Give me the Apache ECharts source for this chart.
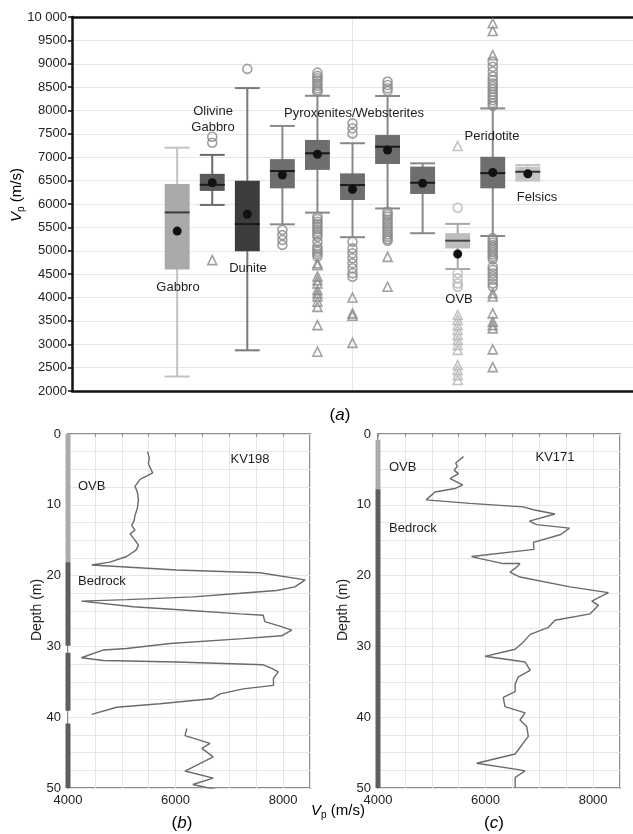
<!DOCTYPE html>
<html><head><meta charset="utf-8">
<script src="https://cdn.jsdelivr.net/npm/echarts@6/dist/echarts.min.js"></script>
<style>html,body{margin:0;padding:0;background:#fff}#c{width:633px;height:834px}</style>
</head><body><div id="c"></div>
<script>
// ---------- (a) box plot data ----------
const boxNames = ['Gabbro','Olivine Gabbro','Dunite','Pyroxenite/Websterite 1','Pyroxenite/Websterite 2','Pyroxenite/Websterite 3','Pyroxenite/Websterite 4','Peridotite 1','OVB','Peridotite 2','Felsics'];
const whiskerLow  = [2310, 5980, 2870, 5565, 5815, 5290, 5905, 5375, 4610, 5315, 6500];
const q1          = [4600, 6280, 4990, 6335, 6730, 6085, 6855, 6215, 5050, 6335, 6500];
const median      = [5820, 6410, 5570, 6705, 7085, 6405, 7225, 6455, 5215, 6660, 6690];
const q3          = [6430, 6645, 6495, 6960, 7370, 6655, 7475, 6800, 5375, 7010, 6800];
const whiskerHigh = [7205, 7050, 8480, 7670, 8315, 7300, 8310, 6870, 5575, 8045, 6835];
const meanVp      = [5420, 6455, 5780, 6620, 7065, 6315, 7155, 6445, 4930, 6675, 6645];
const outlierCircles = [
  [],
  [7440, 7310],
  [8890],
  [5445, 5335, 5230, 5125],
  [8810, 8740, 8690, 8640, 8580, 8530, 8475, 8430, 8400, 5730, 5680, 5620, 5570, 5515, 5460, 5405, 5350, 5300, 5190, 5085, 5030, 4980, 4930, 4875],
  [7725, 7620, 7510, 5195, 5050, 4945, 4840, 4730, 4625, 4520, 4445],
  [8620, 8545, 8475, 8420, 5835, 5780, 5730, 5670, 5620, 5570, 5515, 5460, 5405, 5350, 5300, 5250, 5215],
  [],
  [5920, 4520, 4410, 4300, 4230],
  [9045, 8935, 8830, 8725, 8650, 8580, 8520, 8460, 8400, 8340, 8280, 8220, 8160, 8100, 5270, 5220, 5170, 5120, 5070, 5020, 4970, 4920, 4870, 4820, 4660, 4590, 4520, 4450, 4380, 4300, 4230],
  []
];
const outlierTriangles = [
  [],
  [4800],
  [],
  [],
  [4730, 4690, 4450, 4370, 4300, 4160, 4090, 4020, 3910, 3800, 3410, 2840],
  [4000, 3660, 3610, 3030],
  [4870, 4230],
  [],
  [7240, 3625, 3520, 3410, 3305, 3200, 3090, 2985, 2880, 2555, 2450, 2340, 2235],
  [9865, 9700, 9185, 4090, 4020, 3660, 3480, 3410, 3340, 2890, 2510],
  []
];
const vpTicksA = [2000, 10000, 500];

// ---------- (b) KV198 ----------
const kv198DepthUpper = [2.5, 3.4, 4.2, 5.5, 6.0, 6.4, 7.4, 8.2, 9.3, 10.5, 11.5, 12.2, 12.9, 13.6, 14.1, 15.0, 15.7, 16.4, 17.3, 18.1, 18.5, 19.2, 19.6, 20.6, 21.6, 22.1, 22.5, 23.0, 23.4, 23.6, 24.4, 24.9, 25.4, 25.6, 26.5, 27.2, 27.7, 28.5, 28.9, 29.6, 30.3, 30.5, 31.6, 32.0, 32.2, 32.6, 33.1, 33.6, 34.5, 35.5, 36.0, 36.7, 37.4, 38.1, 38.6, 39.6];
const kv198VpUpper    = [5480, 5510, 5495, 5575, 5450, 5340, 5245, 5290, 5310, 5290, 5245, 5230, 5185, 5245, 5155, 5245, 5310, 5265, 5090, 4780, 4440, 6020, 7570, 8410, 8220, 7880, 7200, 6330, 5090, 4250, 5215, 6205, 7200, 7630, 7660, 7970, 8160, 7970, 7260, 5900, 5090, 4660, 4250, 4660, 6020, 7630, 7790, 7910, 7820, 7820, 7260, 6830, 6670, 5710, 4905, 4440];
const kv198DepthLower = [41.6, 42.6, 43.7, 44.4, 45.6, 47.6, 48.6, 49.5, 50.6];
const kv198VpLower    = [6210, 6175, 6640, 6490, 6700, 6175, 6700, 6320, 6980];
const kv198Ovb     = [[0, 18.1]];
const kv198Bedrock = [[18.1, 29.9], [30.9, 39.1], [40.9, 50]];

// ---------- (c) KV171 ----------
const kv171Depth = [3.2, 4.1, 4.6, 5.1, 5.6, 6.3, 7.2, 7.7, 8.2, 8.6, 9.3, 9.8, 10.3, 10.7, 11.3, 12.3, 12.8, 13.3, 14.2, 15.3, 16.3, 17.3, 17.6, 18.3, 18.3, 18.8, 19.5, 20.2, 21.6, 22.4, 23.0, 23.6, 24.2, 25.4, 26.3, 27.3, 28.3, 29.4, 30.4, 31.4, 32.2, 33.4, 34.3, 35.3, 36.4, 37.2, 38.5, 39.4, 40.4, 41.3, 42.7, 45.2, 46.5, 47.4, 47.6, 48.5, 49.9];
const kv171Vp    = [5590, 5445, 5475, 5415, 5495, 5340, 5575, 5430, 5060, 5000, 4895, 5710, 6700, 6890, 7290, 6815, 6950, 7560, 7400, 6890, 6900, 5740, 5900, 6330, 6640, 6580, 6455, 6640, 7570, 8285, 8130, 7975, 8100, 7945, 7290, 7170, 6830, 6700, 6550, 5990, 6735, 6830, 6610, 6550, 6550, 6330, 6360, 6735, 6640, 6765, 6795, 6550, 5835, 6610, 6735, 6550, 6550];
const kv171Ovb     = [[0.8, 7.8]];
const kv171Bedrock = [[7.8, 50]];

// ---------- styles ----------
const FONT = '"Liberation Sans", Arial, Helvetica, sans-serif';
const boxStyles = [
  {fill:'#a9a9a9', whisker:'#c2c2c2', median:'#3a3a3a', out:'#999'},
  {fill:'#5a5a5a', whisker:'#6a6a6a', median:'#1a1a1a', out:'#8a8a8a'},
  {fill:'#3c3c3c', whisker:'#7a7a7a', median:'#1a1a1a', out:'#8a8a8a'},
  {fill:'#6e6e6e', whisker:'#888', median:'#1a1a1a', out:'#8a8a8a'},
  {fill:'#6e6e6e', whisker:'#888', median:'#1a1a1a', out:'#8a8a8a'},
  {fill:'#6e6e6e', whisker:'#888', median:'#1a1a1a', out:'#8a8a8a'},
  {fill:'#6e6e6e', whisker:'#888', median:'#1a1a1a', out:'#8a8a8a'},
  {fill:'#6e6e6e', whisker:'#888', median:'#1a1a1a', out:'#8a8a8a'},
  {fill:'#bdbdbd', whisker:'#a8a8a8', median:'#444', out:'#b4b4b4'},
  {fill:'#6e6e6e', whisker:'#888', median:'#1a1a1a', out:'#8a8a8a'},
  {fill:'#c4c4c4', whisker:'#c4c4c4', median:'#333', out:'#999'}
];
const SLOT0 = 3; // first box sits on slot 3 of a 0..16 slot axis

const boxData = boxNames.map((n, i) => [i + SLOT0, whiskerLow[i], q1[i], median[i], q3[i], whiskerHigh[i], meanVp[i]]);
const circleData = [], triData = [];
outlierCircles.forEach((arr, i) => arr.forEach(v => circleData.push({value:[i + SLOT0, v], itemStyle:{borderColor: boxStyles[i].out}})));
outlierTriangles.forEach((arr, i) => arr.forEach(v => triData.push({value:[i + SLOT0, v], itemStyle:{borderColor: boxStyles[i].out}})));

function renderBox(params, api) {
  const i = params.dataIndex;
  const x = api.value(0);
  const lo = api.coord([x, api.value(1)]);
  const b1 = api.coord([x, api.value(2)]);
  const md = api.coord([x, api.value(3)]);
  const b3 = api.coord([x, api.value(4)]);
  const hi = api.coord([x, api.value(5)]);
  const mn = api.coord([x, api.value(6)]);
  const w = api.size([1, 0])[0] * 0.71;
  const cx = lo[0];
  const st = boxStyles[i];
  return {type:'group', children:[
    {type:'line', shape:{x1:cx, y1:hi[1], x2:cx, y2:lo[1]}, style:{stroke:st.whisker, lineWidth:2}},
    {type:'line', shape:{x1:cx - w/2, y1:hi[1], x2:cx + w/2, y2:hi[1]}, style:{stroke:st.whisker, lineWidth:2}},
    {type:'line', shape:{x1:cx - w/2, y1:lo[1], x2:cx + w/2, y2:lo[1]}, style:{stroke:st.whisker, lineWidth:2}},
    {type:'rect', shape:{x:cx - w/2, y:b3[1], width:w, height:Math.max(b1[1] - b3[1], 1)}, style:{fill:st.fill}},
    {type:'line', shape:{x1:cx - w/2, y1:md[1], x2:cx + w/2, y2:md[1]}, style:{stroke:st.median, lineWidth:2}},
    {type:'circle', shape:{cx:cx, cy:mn[1], r:4.5}, style:{fill:'#111'}}
  ]};
}

function barSeries(intervals, color, xi, yi) {
  return intervals.map(iv => ({
    type:'line', xAxisIndex:xi, yAxisIndex:yi, clip:false, symbol:'none', silent:true,
    lineStyle:{color:color, width:5}, z:5,
    data:[[4000, iv[0]], [4000, iv[1]]]
  }));
}
function zipLine(vp, depth) { return vp.map((v, k) => [v, depth[k]]); }

const depthAxis = (gi) => ({
  type:'value', gridIndex:gi, min:0, max:50, interval:2.5, inverse:true,
  axisLine:{show:false}, axisTick:{show:false},
  axisLabel:{fontFamily:FONT, fontSize:13, color:'#222', margin:7, formatter: v => (v % 10 === 0 ? String(v) : '')},
  splitLine:{show:true, lineStyle:{color:'#e6e6e6', width:1}}
});
const vpAxis = (gi) => ({
  type:'value', gridIndex:gi, min:4000, max:8500, interval:500,
  axisLine:{show:false}, axisTick:{show:true, length:3, lineStyle:{color:'#999'}},
  axisLabel:{fontFamily:FONT, fontSize:13, color:'#222', margin:6, showMaxLabel:false, formatter: v => (v % 2000 === 0 ? String(v) : '')},
  splitLine:{show:true, lineStyle:{color:'#e6e6e6', width:1}}
});

const vpRich = {
  v:{fontFamily:FONT, fontSize:15, fontStyle:'italic', color:'#222'},
  s:{fontFamily:FONT, fontSize:10, color:'#222', padding:[9,0,0,0]},
  n:{fontFamily:FONT, fontSize:15, color:'#222'}
};
const capRich = {
  p:{fontFamily:FONT, fontSize:17, color:'#222'},
  i:{fontFamily:FONT, fontSize:17, fontStyle:'italic', color:'#222'}
};
function txt(x, y, s, align) {
  return {type:'text', z:100, x:x, y:y, style:{text:s, font:'13px ' + FONT, fill:'#1e1e1e', align:align || 'center', verticalAlign:'middle'}};
}

const chart = echarts.init(document.getElementById('c'), null, {renderer:'canvas'});
chart.setOption({
  animation:false,
  backgroundColor:'#fff',
  grid:[
    {left:72, top:17, width:561, height:374},
    {left:68, top:434, width:242, height:354, show:true, borderColor:'#8c8c8c', borderWidth:2, backgroundColor:'transparent'},
    {left:378, top:434, width:242, height:354, show:true, borderColor:'#8c8c8c', borderWidth:2, backgroundColor:'transparent'}
  ],
  xAxis:[
    {type:'value', gridIndex:0, min:0, max:16, interval:8, position:'bottom',
     axisLine:{show:true, onZero:false, lineStyle:{color:'#111', width:2.5}}, axisTick:{show:false}, axisLabel:{show:false},
     splitLine:{show:true, lineStyle:{color:'#e6e6e6'}}},
    {type:'value', gridIndex:0, min:0, max:16, position:'top',
     axisLine:{show:true, onZero:false, lineStyle:{color:'#111', width:2.5}}, axisTick:{show:false}, axisLabel:{show:false}, splitLine:{show:false}},
    vpAxis(1), vpAxis(2)
  ],
  yAxis:[
    {type:'value', gridIndex:0, min:vpTicksA[0], max:vpTicksA[1], interval:vpTicksA[2],
     axisLine:{show:true, onZero:false, lineStyle:{color:'#111', width:2.5}},
     axisTick:{show:true, length:4, lineStyle:{color:'#111', width:1.5}},
     axisLabel:{fontFamily:FONT, fontSize:13, color:'#222', margin:5, formatter: v => (v === 10000 ? '10 000' : String(v))},
     splitLine:{show:true, lineStyle:{color:'#e6e6e6', width:1}}},
    depthAxis(1), depthAxis(2)
  ],
  series:[
    {type:'custom', xAxisIndex:0, yAxisIndex:0, renderItem:renderBox, data:boxData, z:3, silent:true},
    {type:'scatter', xAxisIndex:0, yAxisIndex:0, symbol:'circle', symbolSize:9, data:circleData, z:4, silent:true,
     itemStyle:{color:'rgba(255,255,255,0)', borderWidth:1.6}},
    {type:'scatter', xAxisIndex:0, yAxisIndex:0, symbol:'triangle', symbolSize:9, data:triData, z:4, silent:true,
     itemStyle:{color:'rgba(255,255,255,0)', borderWidth:1.6}},
    {type:'line', xAxisIndex:2, yAxisIndex:1, symbol:'none', silent:true, data:zipLine(kv198VpUpper, kv198DepthUpper), lineStyle:{color:'#6a6a6a', width:1.4}},
    {type:'line', xAxisIndex:2, yAxisIndex:1, symbol:'none', silent:true, data:zipLine(kv198VpLower, kv198DepthLower), lineStyle:{color:'#6a6a6a', width:1.4}},
    {type:'line', xAxisIndex:3, yAxisIndex:2, symbol:'none', silent:true, data:zipLine(kv171Vp, kv171Depth), lineStyle:{color:'#6a6a6a', width:1.4}},
    ...barSeries(kv198Ovb, '#ababab', 2, 1),
    ...barSeries(kv198Bedrock, '#5e5e5e', 2, 1),
    ...barSeries(kv171Ovb, '#ababab', 3, 2),
    ...barSeries(kv171Bedrock, '#5e5e5e', 3, 2)
  ],
  graphic:[
    {type:'text', z:100, x:17, y:195, rotation:Math.PI/2, style:{text:'{v|V}{s|p}{n| (m/s)}', rich:vpRich, align:'center', verticalAlign:'middle'}},
    txt(178, 287, 'Gabbro'),
    txt(213, 111, 'Olivine'),
    txt(213, 127, 'Gabbro'),
    txt(248, 268, 'Dunite'),
    txt(354, 113, 'Pyroxenites/Websterites'),
    txt(492, 136, 'Peridotite'),
    txt(537, 197, 'Felsics'),
    txt(459, 299, 'OVB'),
    {type:'text', z:100, x:340, y:415, style:{text:'{p|(}{i|a}{p|)}', rich:capRich, align:'center', verticalAlign:'middle'}},
    txt(250, 459, 'KV198'),
    txt(78, 486, 'OVB', 'left'),
    txt(78, 581, 'Bedrock', 'left'),
    txt(555, 457, 'KV171'),
    txt(389, 467, 'OVB', 'left'),
    txt(389, 528, 'Bedrock', 'left'),
    {type:'text', z:100, x:37, y:610, rotation:Math.PI/2, style:{text:'Depth (m)', font:'14px ' + FONT, fill:'#222', align:'center', verticalAlign:'middle'}},
    {type:'text', z:100, x:343, y:610, rotation:Math.PI/2, style:{text:'Depth (m)', font:'14px ' + FONT, fill:'#222', align:'center', verticalAlign:'middle'}},
    {type:'text', z:100, x:311, y:811, style:{text:'{v|V}{s|p}{n| (m/s)}', rich:vpRich, align:'left', verticalAlign:'middle'}},
    {type:'text', z:100, x:182, y:823, style:{text:'{p|(}{i|b}{p|)}', rich:capRich, align:'center', verticalAlign:'middle'}},
    {type:'text', z:100, x:494, y:823, style:{text:'{p|(}{i|c}{p|)}', rich:capRich, align:'center', verticalAlign:'middle'}}
  ]
});
</script>
</body></html>
